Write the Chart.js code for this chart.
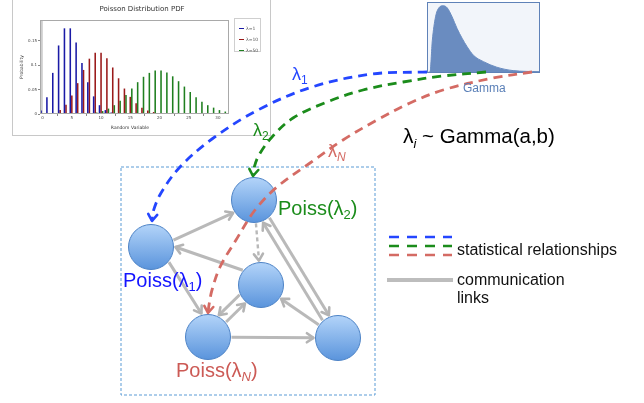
<html>
  <head>
    <title>Poisson network</title>
    <script src="https://cdn.jsdelivr.net/npm/chart.js@4.4.0/dist/chart.umd.min.js"></script>
    <style>
      body { margin: 0; width: 644px; height: 403px; position: relative; overflow: hidden; background: #fff; }
      canvas { display: block; }
      #poisson-box { position: absolute; left: 12px; top: -1px; width: 257px; height: 135px; border: 1px solid #c8c8c8; background: #fff; }
      #poisson-legend { position: absolute; left: 221px; top: 18px; width: 27px; height: 34px; border: 1px solid #cfcfcf; background: #fff;
                        padding: 4px 0 0 4px; box-sizing: border-box; font: 4.5px "DejaVu Sans"; color: #555; }
      #poisson-legend div { height: 11px; line-height: 11px; white-space: nowrap; }
      #poisson-legend span { display: inline-block; width: 5px; height: 1px; vertical-align: middle; margin-right: 2px; }
      #gamma-box { position: absolute; left: 427px; top: 2px; width: 111px; height: 69px; border: 1px solid #5f82b8; background: #f2f5fa; }
      #diagram { position: absolute; left: 0; top: 0; pointer-events: none; }
    </style>
  </head>

  <body>
    <div id="poisson-box">
      <canvas id="poisson" width="257" height="135"></canvas>
      <div id="poisson-legend"></div>
    </div>
    <div id="gamma-box"><canvas id="gamma" width="111" height="69"></canvas></div>
    <canvas id="diagram" width="644" height="403"></canvas>
  </body>

  <script>
    // ---- Poisson PDF inset
    const randomVariable = [0,1,2,3,4,5,6,7,8,9,10,11,12,13,14,15,16,17,18,19,20,21,22,23,24,25,26,27,28,29,30,31];
    const seriesLabels = ['λ=1', 'λ=10', 'λ=50'];
    const seriesColors = ['#1a1aa6', '#9a1a1a', '#1f7f1f'];
    const lowSeries = [0.007,0.034,0.084,0.140,0.175,0.175,0.146,0.104,0.065,0.036,0.018,0.008,0.003,0.001,0,0,0,0,0,0,0,0,0,0,0,0,0,0,0,0,0,0];
    const midSeries = [0,0.0005,0.002,0.008,0.019,0.038,0.063,0.090,0.113,0.125,0.125,0.114,0.095,0.073,0.052,0.035,0.022,0.013,0.007,0.004,0.002,0.001,0,0,0,0,0,0,0,0,0,0];
    const highSeries = [0,0,0,0,0,0,0,0,0.001,0.003,0.006,0.011,0.018,0.027,0.039,0.052,0.065,0.076,0.084,0.089,0.089,0.085,0.077,0.067,0.056,0.045,0.034,0.025,0.018,0.013,0.008,0.005];
    const xTicks = [0, 5, 10, 15, 20, 25, 30];
    const xTickLabels = ['0', '5', '10', '15', '20', '25', '30'];
    const yTicks = [0, 0.05, 0.1, 0.15];
    const yTickLabels = ['0', '0.05', '0.1', '0.15'];

    // ---- Gamma inset curve
    const gammaX = [0.05,0.18,0.39,0.68,0.98,1.37,1.73,2.17,2.62,3.07,3.51,4.11,5.0,6.19,7.68,10];
    const gammaY = [0,0,0.46,0.80,0.93,0.96,0.93,0.80,0.63,0.49,0.37,0.24,0.15,0.07,0.02,0.005];

    // ---- network diagram
    const nodeX = [151, 254, 261, 208, 338];
    const nodeY = [247, 200, 285, 337, 338];
    const nodeR = 22.5;
    const edgeFrom  = [0, 2, 1, 0, 2, 3, 3, 4, 1, 4];
    const edgeTo    = [1, 0, 2, 3, 3, 2, 4, 2, 4, 1];
    const edgeShift = [3, 8, 0, -7, 8, 2, 0, 0, -4, -4];
    const edgeDashed = [false, false, true, false, false, false, false, false, false, false];

    const blueCurveX = [427, 372, 312, 258, 212, 180, 161, 153, 152];
    const blueCurveY = [72, 74, 87, 110, 139, 167, 193, 212, 221];
    const greenCurveX = [486, 443, 403, 363, 327, 293, 272, 259, 254, 253];
    const greenCurveY = [72, 76, 82, 90, 102, 118, 137, 155, 168, 176];
    const redCurveX = [532, 493, 443, 410, 377, 343, 310, 277, 255, 236, 220, 212, 209, 208];
    const redCurveY = [72, 78, 90, 103, 120, 140, 163, 187, 210, 240, 267, 290, 305, 313];
    const curveColors = ['#2446ff', '#1b8c1b', '#d46b64'];

    const boxX = [121, 375, 375, 121, 121];
    const boxY = [167, 167, 395, 395, 167];

    function pts(xs, ys) {
      return xs.map((x, i) => ({x: x, y: ys[i]}));
    }

    // legend html for the poisson inset
    var legendHTML = '';
    for (i = 0; i < seriesLabels.length; i++) {
      legendHTML += "<div><span style='background:" + seriesColors[i] + "'></span>" + seriesLabels[i] + "</div>";
    }
    document.getElementById('poisson-legend').innerHTML = legendHTML;

    const poissonDecor = {
      id: 'poissonDecor',
      beforeDatasetsDraw(chart) {
        const {ctx, chartArea: a, scales} = chart;
        const zx = scales.x.getPixelForValue(-0.12);
        ctx.save();
        ctx.strokeStyle = '#c4c4c4';
        ctx.lineWidth = 1.5;
        ctx.beginPath(); ctx.moveTo(zx, a.top); ctx.lineTo(zx, a.bottom); ctx.stroke();
        ctx.restore();
      },
      afterDraw(chart) {
        const {ctx, chartArea: a} = chart;
        ctx.save();
        ctx.strokeStyle = '#a9a9a9';
        ctx.lineWidth = 1;
        ctx.strokeRect(a.left + 0.5, a.top + 0.5, a.right - a.left - 1, a.bottom - a.top - 1);
        ctx.fillStyle = '#333';
        ctx.textAlign = 'center';
        ctx.textBaseline = 'middle';
        ctx.font = '7px "DejaVu Sans"';
        ctx.fillText('Poisson Distribution PDF', 129, 9);
        ctx.font = '4.5px "DejaVu Sans"';
        ctx.fillText('Random Variable', 117, 128);
        ctx.translate(9, (a.top + a.bottom) / 2);
        ctx.rotate(-Math.PI / 2);
        ctx.fillText('Probability', 0, 0);
        ctx.restore();
      }
    };

    const seriesValues = [lowSeries, midSeries, highSeries];
    new Chart(document.getElementById('poisson'), {
      type: 'bar',
      data: {
        datasets: seriesValues.map((vals, s) => ({
          label: seriesLabels[s],
          data: randomVariable.map((k, i) => ({x: k, y: vals[i]})),
          backgroundColor: seriesColors[s],
          borderWidth: 0,
          categoryPercentage: 0.8,
          barPercentage: 1.0
        }))
      },
      options: {
        responsive: false,
        animation: false,
        events: [],
        layout: { padding: { left: 0, right: 41, top: 20, bottom: 0 } },
        plugins: { legend: { display: false }, tooltip: { enabled: false } },
        scales: {
          x: {
            type: 'linear', min: -0.45, max: 31.9, offset: false,
            afterFit: s => { s.height = 21; },
            afterBuildTicks: s => { s.ticks = xTicks.map(v => ({value: v})); },
            grid: { display: true, drawOnChartArea: false, tickLength: 2, color: '#888' },
            border: { display: false },
            ticks: { font: { size: 4, family: 'DejaVu Sans' }, color: '#444', padding: 0, maxRotation: 0,
                     callback: (v, i) => xTickLabels[i] }
          },
          y: {
            min: 0, max: 0.192,
            afterFit: s => { s.width = 27; },
            afterBuildTicks: s => { s.ticks = yTicks.map(v => ({value: v})); },
            grid: { display: true, drawOnChartArea: false, tickLength: 2, color: '#888' },
            border: { display: false },
            ticks: { font: { size: 4, family: 'DejaVu Sans' }, color: '#444', padding: 1,
                     callback: (v, i) => yTickLabels[i] }
          }
        }
      },
      plugins: [poissonDecor]
    });

    new Chart(document.getElementById('gamma'), {
      type: 'line',
      data: {
        datasets: [{
          data: pts(gammaX, gammaY),
          borderColor: '#6a8cc0',
          backgroundColor: '#6a8cc0',
          borderWidth: 1,
          fill: 'origin',
          pointRadius: 0,
          cubicInterpolationMode: 'monotone'
        }]
      },
      options: {
        responsive: false,
        animation: false,
        events: [],
        layout: { padding: 0, autoPadding: false },
        plugins: { legend: { display: false }, tooltip: { enabled: false } },
        scales: {
          x: { type: 'linear', min: 0, max: 10, display: false },
          y: { min: 0, max: 1.0, display: false }
        }
      }
    });

    // ---- build diagram datasets
    function edgePoints(a, b, shift) {
      const dx = nodeX[b] - nodeX[a], dy = nodeY[b] - nodeY[a];
      const len = Math.hypot(dx, dy);
      const ux = dx / len, uy = dy / len, px = -uy, py = ux;
      const trim = Math.sqrt(nodeR * nodeR - shift * shift);
      return [
        {x: nodeX[a] + ux * (trim + 1) + px * shift, y: nodeY[a] + uy * (trim + 1) + py * shift},
        {x: nodeX[b] - ux * (trim + 2) + px * shift, y: nodeY[b] - uy * (trim + 2) + py * shift}
      ];
    }

    const diagramSets = [];
    const curves = [[blueCurveX, blueCurveY], [greenCurveX, greenCurveY], [redCurveX, redCurveY]];
    curves.forEach((c, i) => {
      diagramSets.push({
        type: 'scatter', showLine: true, data: pts(c[0], c[1]), order: 0,
        borderColor: curveColors[i], borderWidth: 2.8, borderDash: [9, 6], tension: 0.35,
        pointRadius: 0, arrow: true, arrowColor: curveColors[i], arrowWidth: 2.6
      });
    });
    diagramSets.push({
      type: 'bubble', order: 1,
      data: nodeX.map((x, i) => ({x: x, y: nodeY[i], r: nodeR})),
      borderColor: '#4d83c6', borderWidth: 1,
      backgroundColor: ctx => {
        if (ctx.type !== 'data') return '#8db7ea';
        const c = ctx.chart;
        const cy = c.scales.y.getPixelForValue(ctx.raw.y);
        if (!isFinite(cy)) return '#8db7ea';
        const g = c.ctx.createLinearGradient(0, cy - nodeR, 0, cy + nodeR);
        g.addColorStop(0, '#b3d4f9');
        g.addColorStop(1, '#5a94dc');
        return g;
      }
    });
    for (i = 0; i < edgeFrom.length; i++) {
      diagramSets.push({
        type: 'scatter', showLine: true, order: 2,
        data: edgePoints(edgeFrom[i], edgeTo[i], edgeShift[i]),
        borderColor: '#b9b9b9', borderWidth: edgeDashed[i] ? 2.4 : 3,
        borderDash: edgeDashed[i] ? [4, 3] : [], pointRadius: 0,
        arrow: true, arrowColor: '#b4b4b4', arrowWidth: 2.6
      });
    }
    diagramSets.push({
      type: 'scatter', showLine: true, order: 3, data: pts(boxX, boxY),
      borderColor: '#5b9bd5', borderWidth: 1, borderDash: [3, 2], pointRadius: 0
    });
    // legend marks
    const legendDashY = [237, 246, 255];
    legendDashY.forEach((y, i) => {
      diagramSets.push({
        type: 'scatter', showLine: true, order: 0, data: [{x: 389, y: y}, {x: 452, y: y}],
        borderColor: curveColors[i], borderWidth: 2.6, borderDash: [10, 8], pointRadius: 0
      });
    });
    diagramSets.push({
      type: 'scatter', showLine: true, order: 0, data: [{x: 387, y: 280}, {x: 453, y: 280}],
      borderColor: '#bdbdbd', borderWidth: 4, pointRadius: 0
    });

    const FONT = '"Liberation Sans", Arial, sans-serif';
    const diagramLabels = [
      {x: 292, y: 80, color: '#2446ff', parts: [{t: 'λ', s: 18}, {t: '1', s: 12, dy: 4}]},
      {x: 253, y: 136, color: '#1b8c1b', parts: [{t: 'λ', s: 18}, {t: '2', s: 12, dy: 4}]},
      {x: 328, y: 157, color: '#d46b64', parts: [{t: 'λ', s: 18}, {t: 'N', s: 12, dy: 4, it: true}]},
      {x: 403, y: 143, color: '#000', parts: [{t: 'λ', s: 21}, {t: 'i', s: 13, dy: 5, it: true}, {t: ' ~ Gamma(a,b)', s: 20.5}]},
      {x: 463, y: 92, color: '#5b80b8', parts: [{t: 'Gamma', s: 12}]},
      {x: 278, y: 215, color: '#1b8c1b', parts: [{t: 'Poiss(λ', s: 20}, {t: '2', s: 13, dy: 4}, {t: ')', s: 20}]},
      {x: 123, y: 287, color: '#1414ff', parts: [{t: 'Poiss(λ', s: 20}, {t: '1', s: 13, dy: 4}, {t: ')', s: 20}]},
      {x: 176, y: 377, color: '#cc5a55', parts: [{t: 'Poiss(λ', s: 20}, {t: 'N', s: 13, dy: 4, it: true}, {t: ')', s: 20}]},
      {x: 457, y: 255, color: '#111', parts: [{t: 'statistical relationships', s: 16}]},
      {x: 457, y: 285, color: '#111', parts: [{t: 'communication', s: 16}]},
      {x: 457, y: 303, color: '#111', parts: [{t: 'links', s: 16}]}
    ];

    const diagramDecor = {
      id: 'diagramDecor',
      afterDatasetsDraw(chart) {
        const ctx = chart.ctx;
        chart.data.datasets.forEach((ds, di) => {
          if (!ds.arrow) return;
          const el = chart.getDatasetMeta(di).data;
          const p1 = el[el.length - 2], p2 = el[el.length - 1];
          const ang = Math.atan2(p2.y - p1.y, p2.x - p1.x);
          const len = 8, spread = 0.6;
          ctx.save();
          ctx.strokeStyle = ds.arrowColor;
          ctx.lineWidth = ds.arrowWidth;
          ctx.lineCap = 'round';
          ctx.lineJoin = 'round';
          ctx.beginPath();
          ctx.moveTo(p2.x - len * Math.cos(ang - spread), p2.y - len * Math.sin(ang - spread));
          ctx.lineTo(p2.x, p2.y);
          ctx.lineTo(p2.x - len * Math.cos(ang + spread), p2.y - len * Math.sin(ang + spread));
          ctx.stroke();
          ctx.restore();
        });
      },
      afterDraw(chart) {
        const ctx = chart.ctx;
        const sx = chart.scales.x, sy = chart.scales.y;
        ctx.save();
        ctx.textBaseline = 'alphabetic';
        ctx.textAlign = 'left';
        diagramLabels.forEach(lb => {
          var x = sx.getPixelForValue(lb.x);
          const y = sy.getPixelForValue(lb.y);
          ctx.fillStyle = lb.color;
          lb.parts.forEach(p => {
            ctx.font = (p.it ? 'italic ' : '') + p.s + 'px ' + FONT;
            ctx.fillText(p.t, x, y + (p.dy || 0));
            x += ctx.measureText(p.t).width;
          });
        });
        ctx.restore();
      }
    };

    new Chart(document.getElementById('diagram'), {
      type: 'scatter',
      data: { datasets: diagramSets },
      options: {
        responsive: false,
        animation: false,
        events: [],
        layout: { padding: 0, autoPadding: false },
        plugins: { legend: { display: false }, tooltip: { enabled: false } },
        scales: {
          x: { type: 'linear', min: 0, max: 644, display: false },
          y: { type: 'linear', min: 0, max: 403, reverse: true, display: false }
        }
      },
      plugins: [diagramDecor]
    });
  </script>
</html>
